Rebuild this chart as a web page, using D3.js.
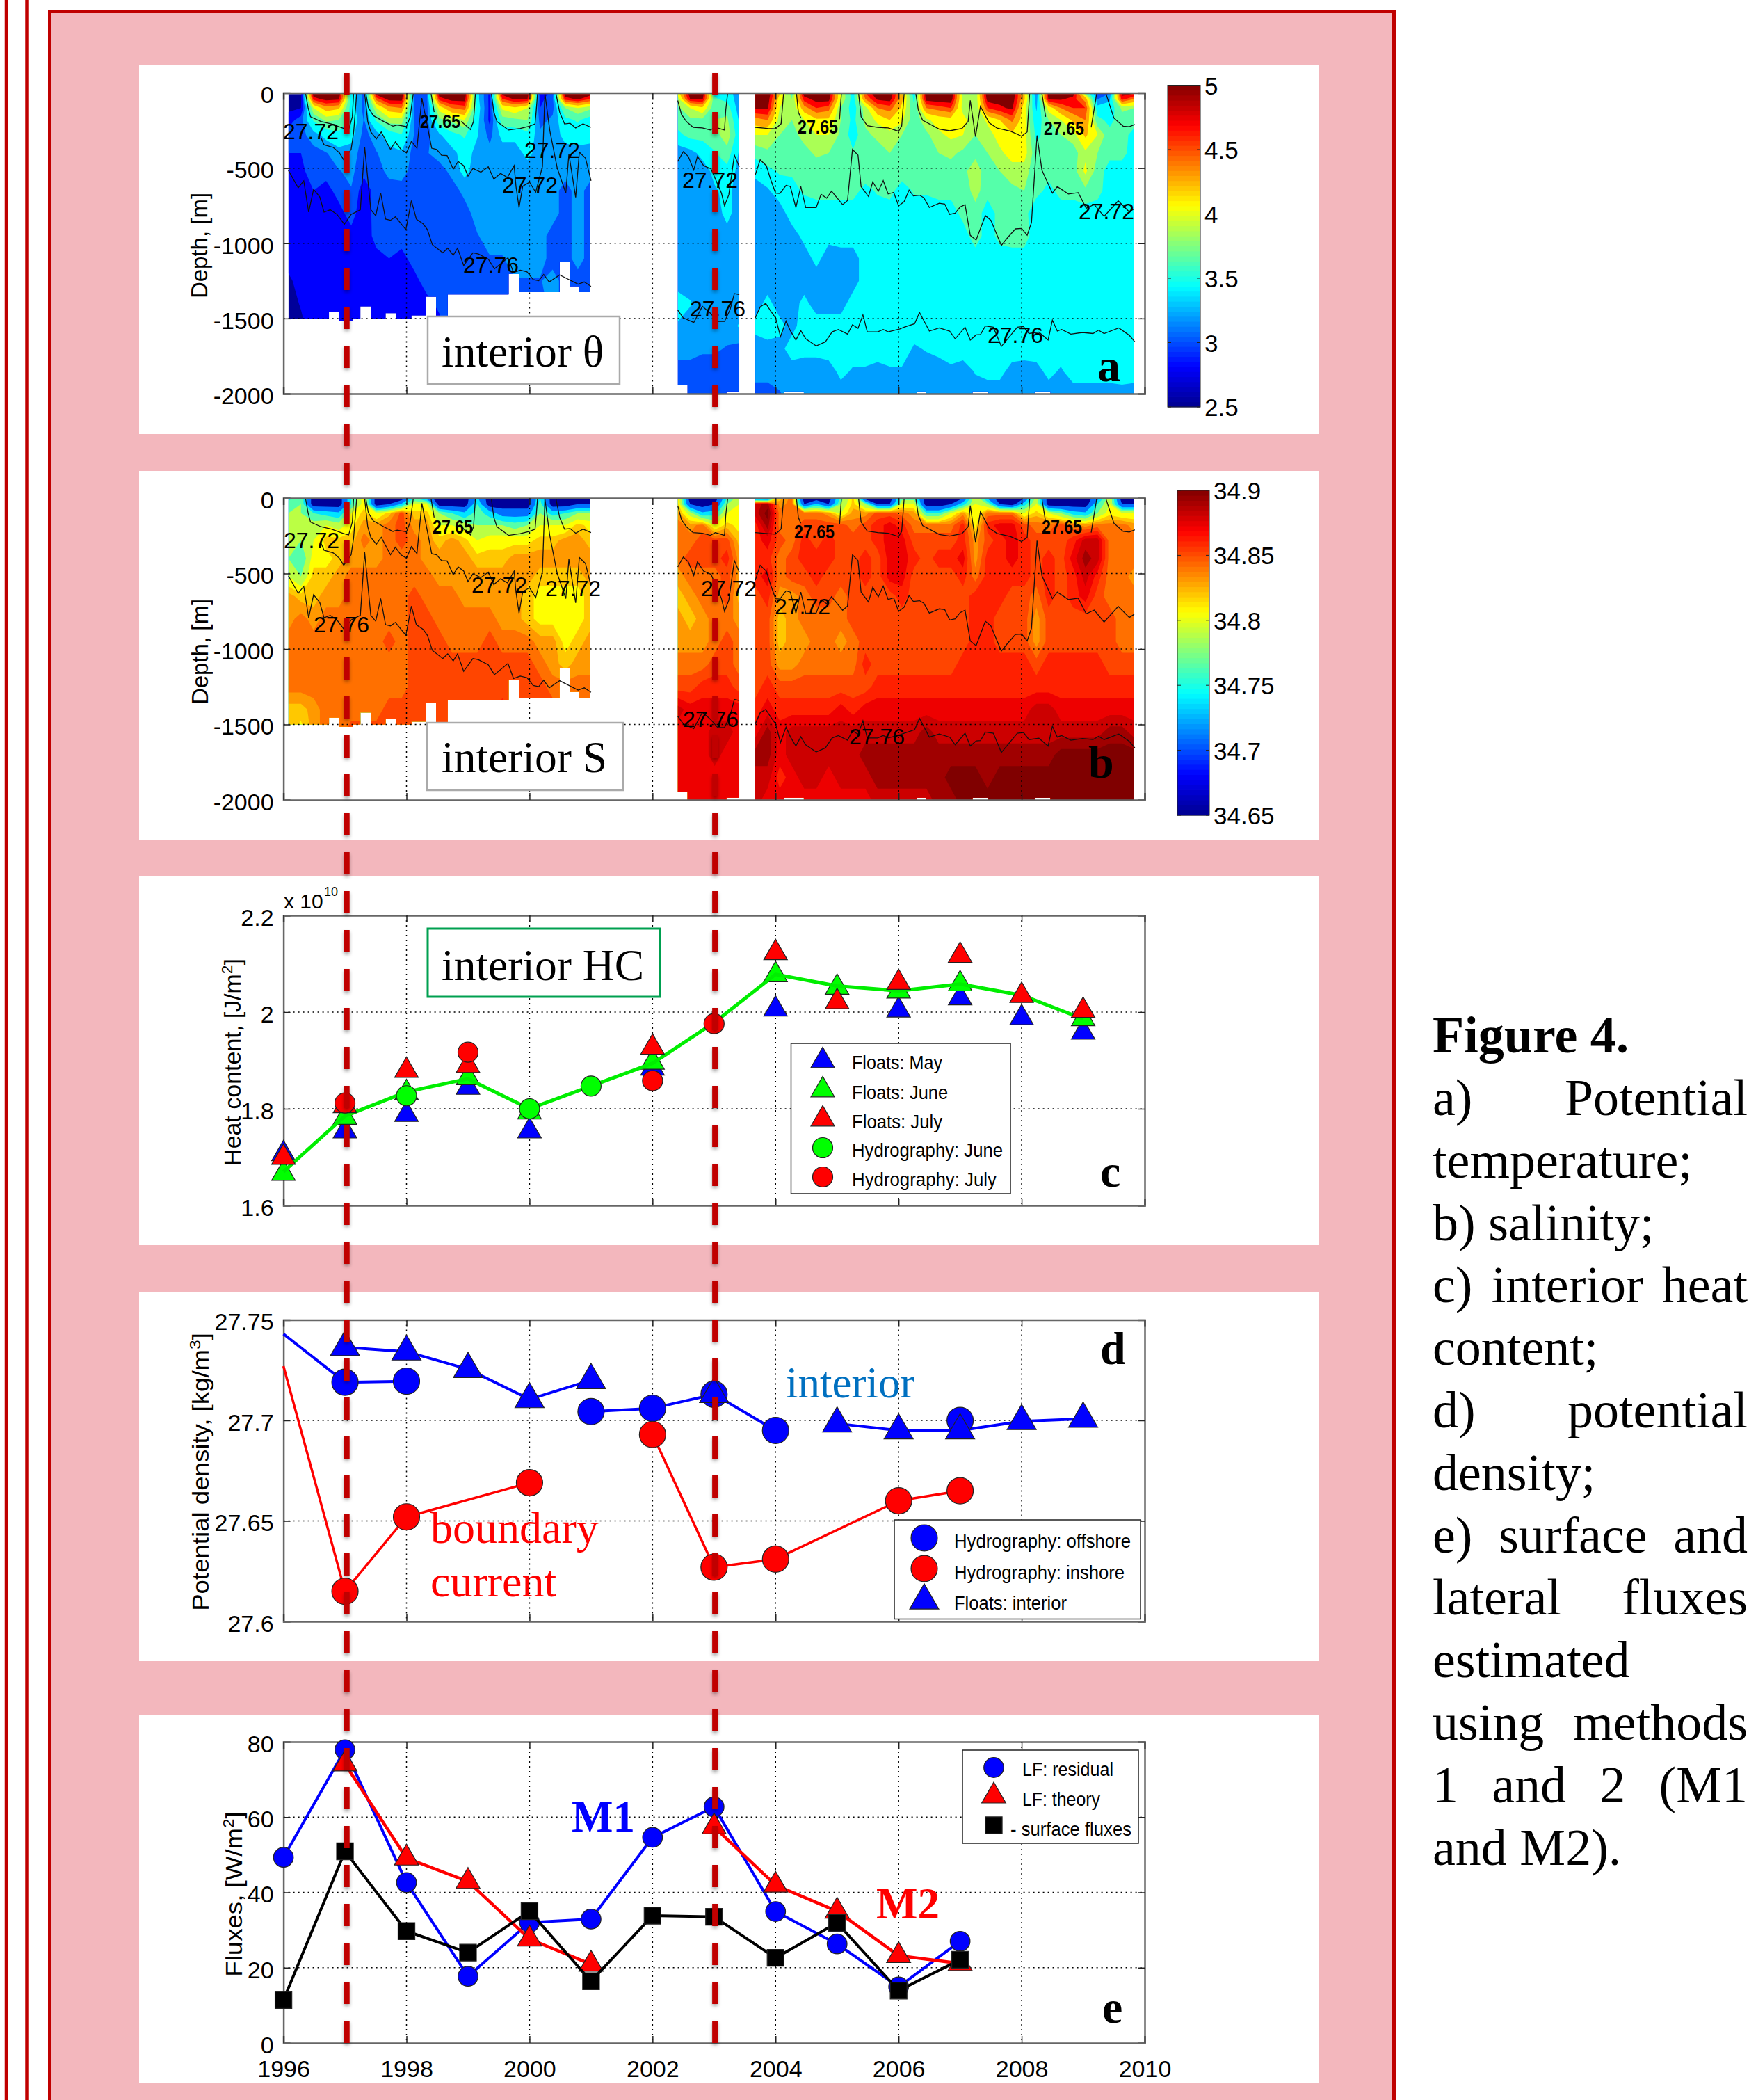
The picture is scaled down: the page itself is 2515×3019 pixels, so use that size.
<!DOCTYPE html>
<html>
<head>
<meta charset="utf-8">
<script src="https://cdn.jsdelivr.net/npm/d3@7"></script>
<style>
  html, body { margin: 0; background: #fff; }
  text { font-family: "Liberation Sans", sans-serif; fill: #000; }
  .serif { font-family: "Liberation Serif", serif; }
</style>
</head>
<body>
<svg id="fig" width="2515" height="3019"></svg>
<script>
// depth levels of the gridded sections, m
const rowDepths = [0,40,100,180,280,400,520,650,800,950,1100,1250,1400,1550,1700,1850,2000];

// potential temperature profiles, one line per time step
const thetaSeg1 = [
  [2.6,2.6,2.65,2.8,3.0,2.9,2.85,2.8,2.8,2.8,2.8,2.65,2.6,2.6],
  [2.65,2.65,2.7,3.0,3.0,2.9,2.85,2.8,2.8,2.8,2.8,2.8,2.72,2.65],
  [5.0,4.7,3.9,3.5,3.15,3.0,3.0,2.9,2.8,2.8,2.8,2.8,2.8,2.8],
  [5.0,4.9,4.3,3.75,3.3,3.05,2.95,2.85,2.8,2.8,2.8,2.8,2.8,2.8],
  [5.0,4.85,4.2,3.7,3.4,3.15,3.05,2.95,2.85,2.8,2.8,2.8,2.8,2.8],
  [3.35,3.35,3.35,3.4,3.3,3.15,3.1,3.05,2.96,2.85,2.8,2.8,2.8,2.8],
  [3.0,3.0,3.0,3.05,3.0,2.97,2.95,2.8,2.8,2.8,2.8,2.8,2.8,2.8],
  [4.95,4.5,3.9,3.5,3.15,3.05,3.0,2.97,2.97,2.96,2.85,2.8,2.8,2.8],
  [5.0,4.9,4.3,3.8,3.35,3.15,3.1,3.0,3.0,2.97,2.9,2.8,2.8,2.8],
  [5.0,4.9,4.4,3.8,3.45,3.2,3.12,3.0,3.0,2.97,2.85,2.8,2.8,2.8],
  [3.05,3.05,3.05,3.05,3.05,3.0,3.0,2.98,2.98,2.98,2.96,2.85,2.8,2.8],
  [3.0,3.0,3.0,3.0,3.0,3.05,3.05,3.0,3.0,3.0,3.0,2.97,2.85,2.8],
  [5.0,4.7,4.0,3.65,3.2,3.12,3.0,3.0,3.0,3.0,3.0,3.0,2.94,2.85],
  [5.0,4.9,4.4,3.75,3.4,3.15,3.1,3.0,3.0,3.0,3.0,3.0,3.0,3.0],
  [5.0,4.9,4.5,3.9,3.5,3.35,3.3,3.1,3.0,3.0,3.0,3.0,3.0,3.0],
  [3.3,3.3,3.35,3.3,3.25,3.15,3.12,3.12,3.12,3.05,3.0,3.0,3.0,3.0],
  [2.85,2.85,2.85,2.85,3.0,3.12,3.12,3.12,3.12,3.12,3.05,3.0,3.0,3.0],
  [4.9,4.6,3.95,3.6,3.3,3.12,3.12,3.12,3.12,3.12,3.05,3.0,3.0,3.0],
  [5.0,4.85,4.1,3.65,3.3,3.12,3.12,3.12,3.12,3.12,3.12,3.05,3.0,3.0],
  [5.0,4.8,3.9,3.7,3.4,3.3,3.12,3.12,3.12,3.12,3.12,3.05,3.0,3.0],
  [2.8,2.85,2.9,3.0,3.1,3.12,3.12,3.12,3.12,3.12,3.12,3.05,3.0,3.0],
  [2.95,3.0,3.0,3.1,3.12,3.12,3.12,3.12,3.12,3.0,3.0,3.12,3.12,3.1],
  [5.0,4.7,3.7,3.4,3.3,3.15,3.12,3.0,3.0,3.0,3.0,3.0,3.0,3.0],
  [5.0,4.85,3.9,3.5,3.35,3.15,3.12,3.12,3.12,3.12,3.12,3.0,3.0,3.0],
  [4.95,4.6,3.75,3.35,3.3,3.15,3.12,3.0,3.0,3.0,3.0,3.0,3.0,3.0]
];
const thetaSeg2 = [
  [4.0,3.8,3.65,3.6,3.4,3.1,3.12,3.12,3.12,3.12,3.12,3.12,3.35,3.2,3.12,3.0,3.0],
  [4.95,4.8,3.9,3.65,3.55,3.15,3.12,3.12,3.12,3.12,3.12,3.12,3.25,3.12,3.12,3.0,3.0],
  [5.0,4.85,4.1,3.65,3.55,3.3,3.12,3.12,3.12,3.12,3.12,3.12,3.12,3.12,3.08,3.0,3.0],
  [3.4,3.5,3.55,3.7,3.6,3.45,3.3,3.2,3.12,3.12,3.12,3.12,3.15,3.12,3.08,3.0,3.0],
  [3.35,3.4,3.6,3.75,3.85,3.6,3.4,3.3,3.3,3.15,3.12,3.12,3.12,3.12,3.05,3.0,3.0],
  [3.1,3.1,3.1,3.2,3.3,3.2,3.15,3.12,3.12,3.12,3.12,3.12,3.12,3.25,3.0,3.0,3.0]
];
const thetaSeg3 = [
  [4.95,4.9,4.85,4.3,3.9,3.55,3.3,3.12,3.12,3.12,3.12,3.12,3.12,3.3,3.12,3.12,3.0],
  [5.0,4.95,4.85,4.4,3.9,3.65,3.4,3.2,3.12,3.12,3.12,3.12,3.3,3.4,3.12,3.12,3.0],
  [4.2,4.0,3.9,3.8,3.7,3.6,3.5,3.35,3.12,3.12,3.12,3.12,3.12,3.3,3.15,3.12,3.05],
  [3.6,3.7,3.7,3.7,3.6,3.6,3.5,3.4,3.35,3.12,3.12,3.12,3.12,3.15,3.35,3.12,3.12],
  [4.95,4.7,4.3,3.9,3.8,3.6,3.55,3.5,3.35,3.3,3.12,3.12,3.3,3.35,3.3,3.12,3.12],
  [5.0,4.9,4.6,4.1,3.9,3.75,3.55,3.55,3.35,3.35,3.3,3.12,3.12,3.35,3.3,3.12,3.12],
  [5.0,4.9,4.5,4.1,3.9,3.7,3.55,3.55,3.35,3.3,3.12,3.12,3.12,3.35,3.35,3.12,3.12],
  [3.9,3.9,3.7,3.7,3.65,3.6,3.55,3.55,3.35,3.35,3.12,3.12,3.12,3.35,3.35,3.3,3.12],
  [3.35,3.35,3.35,3.4,3.35,3.5,3.55,3.55,3.35,3.35,3.12,3.12,3.35,3.35,3.35,3.2,3.12],
  [4.6,4.4,3.8,3.75,3.65,3.6,3.6,3.4,3.35,3.35,3.35,3.35,3.35,3.35,3.35,3.2,3.12],
  [5.0,4.85,4.4,3.95,3.75,3.6,3.6,3.5,3.35,3.35,3.35,3.35,3.35,3.35,3.35,3.15,3.12],
  [5.0,4.9,4.5,4.15,3.8,3.7,3.6,3.55,3.35,3.35,3.35,3.35,3.35,3.35,3.35,3.2,3.12],
  [4.2,4.2,4.1,3.95,3.7,3.6,3.6,3.35,3.35,3.35,3.35,3.35,3.35,3.35,3.35,3.2,3.12],
  [3.35,3.4,3.5,3.55,3.55,3.6,3.55,3.5,3.35,3.35,3.35,3.35,3.35,3.35,3.2,3.12,3.12],
  [5.0,4.9,4.4,3.85,3.65,3.65,3.65,3.5,3.35,3.35,3.35,3.35,3.35,3.35,3.25,3.12,3.12],
  [5.0,4.95,4.5,4.0,3.85,3.7,3.6,3.55,3.35,3.35,3.35,3.35,3.35,3.35,3.3,3.12,3.12],
  [5.0,4.95,4.6,4.05,3.95,3.75,3.6,3.55,3.35,3.35,3.35,3.35,3.35,3.35,3.3,3.2,3.12],
  [3.8,3.8,3.8,4.0,3.9,3.65,3.65,3.55,3.55,3.35,3.35,3.35,3.35,3.35,3.35,3.12,3.12],
  [3.7,3.7,3.7,3.7,3.7,3.65,3.8,3.8,3.6,3.6,3.35,3.35,3.35,3.35,3.35,3.25,3.12],
  [5.0,4.9,4.6,3.95,3.8,3.7,3.6,3.55,3.35,3.35,3.35,3.35,3.35,3.35,3.35,3.3,3.12],
  [5.0,4.9,4.75,4.15,4.0,3.85,3.7,3.6,3.55,3.55,3.35,3.35,3.35,3.35,3.35,3.3,3.12],
  [5.0,4.95,4.85,4.45,4.1,4.0,3.8,3.65,3.55,3.6,3.35,3.35,3.35,3.35,3.35,3.15,3.12],
  [4.2,4.2,4.0,4.0,4.0,4.0,3.8,3.7,3.55,3.6,3.35,3.35,3.35,3.35,3.35,3.12,3.12],
  [3.05,3.1,3.2,3.3,3.4,3.55,3.55,3.55,3.3,3.3,3.35,3.35,3.35,3.35,3.35,3.15,3.12],
  [4.95,4.85,4.0,3.7,3.6,3.55,3.55,3.4,3.35,3.35,3.35,3.35,3.35,3.35,3.35,3.3,3.12],
  [5.0,4.85,4.4,3.9,3.7,3.6,3.6,3.55,3.35,3.35,3.35,3.35,3.35,3.35,3.35,3.2,3.12],
  [4.95,4.7,4.6,4.2,3.8,3.6,3.6,3.55,3.35,3.35,3.35,3.35,3.35,3.35,3.35,3.35,3.12],
  [3.7,4.3,4.6,4.4,4.2,3.85,3.95,3.65,3.35,3.35,3.35,3.35,3.35,3.35,3.35,3.35,3.12],
  [3.0,3.05,3.3,3.55,3.9,3.7,3.6,3.55,3.35,3.35,3.35,3.35,3.35,3.35,3.35,3.35,3.12],
  [3.05,3.2,3.3,3.4,3.55,3.55,3.35,3.35,3.35,3.35,3.35,3.35,3.35,3.35,3.35,3.35,3.12],
  [4.9,4.7,3.75,3.6,3.6,3.55,3.35,3.35,3.35,3.35,3.35,3.35,3.35,3.35,3.35,3.35,3.15],
  [4.85,4.4,3.7,3.6,3.35,3.35,3.35,3.35,3.35,3.35,3.35,3.35,3.35,3.35,3.35,3.35,3.12]
];

// salinity profiles, hundredths above 34 (85 means 34.85)
const salinitySeg1 = [
  [75,77,78,79,80,78,80,83,83,84,84,84,82,82],
  [78,78,78,78,78,76,78,82,84,84,84,84,82,81],
  [68,68,76,79,80,81,82,82,83,84,84,84,83,83],
  [68,68,75,80,82,81,82,83,84,84,84,84,84,84],
  [68,68,74,79,82,82,83,83,84,84,84,84,84,84],
  [76,76,80,81,82,83,84,84,84,84,84,84,84,85],
  [81,81,82,83,84,83,84,84,84,84,84,84,84,85],
  [68,68,80,83,83,83,84,84,84,84,84,84,84,85],
  [68,70,82,84,84,84,84,84,84,85,84,84,85,85],
  [68,74,85,85,85,84,84,84,84,84,84,84,85,85],
  [76,80,82,83,84,84,84,85,85,85,85,85,85,85],
  [72,80,82,83,83,83,84,84,85,85,85,85,85,85],
  [68,68,78,80,82,83,83,84,84,85,85,85,85,85],
  [68,68,76,80,83,83,83,84,84,84,85,85,85,85],
  [68,68,74,79,82,83,83,83,84,84,85,85,85,85],
  [74,76,77,78,80,82,83,83,84,84,85,85,85,85],
  [68,68,75,78,81,82,83,83,84,85,85,85,85,85],
  [68,68,72,78,81,82,83,83,83,84,85,85,86,85],
  [68,68,72,77,81,83,83,83,83,84,85,85,85,85],
  [68,68,72,78,81,83,83,82,82,84,85,85,85,85],
  [76,77,78,80,82,83,82,81,81,83,84,85,86,85],
  [68,68,75,80,82,83,82,81,81,83,83,84,85,85],
  [68,68,76,80,83,83,82,81,81,81,82,84,85,85],
  [68,70,78,82,83,83,82,81,81,82,83,84,85,85],
  [68,70,78,81,82,83,83,82,82,83,83,84,85,85]
];
const salinitySeg2 = [
  [82,82,83,84,84,84,83,82,83,83,84,85,88,87,87,87,87],
  [68,70,79,83,84,85,84,83,82,83,84,85,87,87,87,87,87],
  [68,68,74,84,85,85,84,84,83,83,84,86,87,87,87,87,87],
  [68,70,75,80,85,85,84,84,84,84,85,86,87,88,88,87,87],
  [76,78,80,82,85,86,85,85,84,85,85,86,87,88,87,87,87],
  [79,80,80,81,82,83,83,82,83,84,84,85,87,87,87,87,87]
];
const salinitySeg3 = [
  [70,88,88,86,86,86,86,85,85,85,85,85,86,87,89,88,88],
  [68,89,90,89,87,86,87,86,85,85,85,86,87,89,89,88,87],
  [82,83,84,84,85,84,84,83,82,82,83,85,86,87,87,86,87],
  [84,84,84,84,84,85,85,83,83,83,83,85,86,88,88,87,87],
  [68,70,84,85,86,86,85,84,84,83,84,85,86,88,88,88,87],
  [68,74,84,85,85,86,86,85,84,84,84,85,86,88,88,88,87],
  [68,70,83,85,86,86,85,85,84,84,84,85,86,88,88,87,87],
  [77,78,80,85,85,85,85,84,84,83,84,85,87,88,88,88,87],
  [82,82,83,84,85,85,85,85,85,84,84,85,86,88,88,88,87],
  [68,78,83,85,85,86,86,85,85,85,86,85,87,88,89,88,87],
  [68,70,85,86,86,85,85,85,85,85,85,86,87,88,89,89,88],
  [68,70,85,87,87,87,87,85,85,85,85,86,87,88,89,89,88],
  [77,80,84,86,87,87,87,86,85,85,85,86,87,88,89,89,88],
  [77,80,83,84,85,86,85,85,85,85,85,86,87,88,89,89,88],
  [68,68,76,84,85,85,85,85,85,85,85,86,87,89,89,89,88],
  [68,68,76,84,85,86,85,85,85,85,85,86,87,88,89,89,89],
  [68,70,80,84,85,86,85,85,85,85,85,86,87,88,89,90,89],
  [70,75,83,86,86,87,86,85,85,85,86,86,87,88,89,90,90],
  [80,80,80,81,83,83,84,86,86,86,86,86,87,88,89,90,90],
  [73,78,84,86,85,86,86,86,86,86,86,86,87,88,89,89,90],
  [68,70,84,87,86,86,86,86,85,85,86,86,87,88,89,90,90],
  [68,68,84,87,87,87,86,85,85,85,86,86,87,88,89,90,90],
  [70,75,80,85,86,86,86,85,85,85,86,86,87,88,89,90,90],
  [79,80,82,84,85,85,85,84,83,83,85,86,88,88,89,90,90],
  [68,68,80,84,85,86,86,86,85,85,86,86,88,88,89,90,90],
  [68,68,78,85,85,85,85,85,85,85,86,86,87,88,90,90,90],
  [68,68,75,84,86,87,86,86,85,85,86,86,87,88,90,90,90],
  [68,68,74,83,88,89,88,87,85,85,86,86,87,88,90,90,90],
  [72,76,78,84,88,88,86,85,85,85,86,86,87,88,90,90,90],
  [80,80,81,84,84,84,84,84,85,85,85,86,87,89,90,90,90],
  [68,70,80,84,84,84,84,84,84,84,85,86,87,89,90,90,90],
  [68,70,80,83,84,84,83,84,84,84,85,86,87,88,90,90,90]
];

const thetaLevels = [2.7,2.9,3.06,3.23,3.47,3.7,3.9,4.15,4.4,4.6,4.8];
const thetaColors = ["#00009a","#0000ff","#0050ff","#009fff","#00ffff","#55ffaa","#aaff55","#ffff00","#ffaa00","#ff5500","#ff0000","#800000"];
const salinityLevels = [70,73.5,76,78,80,81.5,82.5,83.5,84.5,85.5,86.5,87.5,88.5,89.5];
const salinityColors = ["#00009a","#0070ff","#00e5ff","#55ffaa","#bbff44","#ffff00","#ffc800","#ff9900","#ff7000","#ff4500","#ff2000","#ee0000","#cc0000","#a00000","#800000"];
const jetStops = ["#00008f","#0000ff","#00ffff","#ffff00","#ff0000","#800000"];

// time span of each gridded piece, years
const segStart = [1996.08, 2002.41, 2003.67];
const segEnd = [2000.99, 2003.41, 2009.83];

// bottom of the sampled water column, stepped, m
const bottomTimes = [
  [1996.08,1996.74,1996.90,1997.13,1997.25,1997.42,1997.66,1997.83,1998.08,1998.32,1998.48,1998.67,1999.66,1999.83,2000.49,2000.66,2000.81,2000.99],
  [2002.41,2002.57,2003.2,2003.41],
  [2003.67,2004.14,2004.46,2006.3,2006.45,2007.2,2007.46,2008.21,2008.47,2009.83]
];
const bottomDepths = [
  [1500,1455,1515,1500,1420,1500,1465,1500,1480,1355,1500,1340,1205,1325,1125,1285,1325,1325],
  [1945,2000,1985,1985],
  [2000,1985,2000,1985,2000,1985,2000,1985,2000,2000]
];

// isopycnals, broken pieces of time/depth
const iso65Times = [
  [1996.36,1996.40,1996.44,1996.61,1996.78,1996.98,1997.06,1997.12,1997.14],
  [1997.34,1997.38,1997.46,1997.63,1997.78,1997.85,1998.00,1998.06,1998.11],
  [1998.40,1998.45],
  [1998.89,1999.04,1999.09,1999.12],
  [1999.38,1999.42,1999.47,1999.66,1999.85,2000.00,2000.09,2000.11,2000.13],
  [2000.43,2000.49,2000.57,2000.66,2000.75,2000.87,2001.00],
  [2002.41,2002.47,2002.55,2002.66,2002.81,2002.94,2003.02,2003.17,2003.19,2003.22],
  [2003.67,2003.87,2004.00,2004.09,2004.13],
  [2004.34,2004.37,2004.41],
  [2005.04,2005.07],
  [2005.35,2005.39,2005.49,2005.66,2005.83,2006.00,2006.05,2006.09],
  [2006.28,2006.32,2006.39,2006.66,2006.83,2007.03,2007.13,2007.165,2007.25,2007.33,2007.47,2007.60,2007.82,2008.00,2008.09,2008.13],
  [2008.33,2008.39],
  [2009.13,2009.22],
  [2009.37,2009.50,2009.65,2009.75,2009.84]
];
const iso65Depths = [
  [5,97,159,190,206,236,244,159,5],
  [5,97,151,190,221,213,224,159,5],
  [5,128],
  [190,244,190,5],
  [5,128,190,247,236,221,206,113,5],
  [5,128,206,202,233,206,229],
  [51,143,190,229,233,247,229,247,113,5],
  [229,236,239,205,5],
  [5,128,167],
  [175,5],
  [5,159,218,229,233,255,221,5],
  [5,113,182,241,252,236,190,50,291,90,198,234,255,288,260,5],
  [5,159],
  [229,5],
  [5,167,221,225,210]
];
const iso72Times = [
  [1996.61,1996.66,1996.81,1996.91,1996.98,1997.10,1997.14,1997.19],
  [1997.32,1997.37,1997.42,1997.51,1997.59,1997.74,1997.82,1997.91,1998.00,1998.08,1998.17,1998.25,1998.34,1998.41,1998.49,1998.57,1998.66,1998.76,1998.84,1998.93,1999.00,1999.08,1999.21,1999.33,1999.42,1999.53,1999.64,1999.75,1999.78,1999.83,1999.89,2000.00,2000.10,2000.21,2000.25,2000.33,2000.45,2000.59,2000.64,2000.75,2000.81,2000.91,2001.00],
  [2002.41,2002.50,2002.58,2002.67,2002.73,2002.83,2002.95,2003.12,2003.17,2003.24,2003.33,2003.41],
  [2003.67,2003.75,2003.85,2003.92,2004.00,2004.07,2004.17,2004.24,2004.33,2004.41,2004.49,2004.66,2004.74,2004.83,2004.91,2005.09,2005.17,2005.25,2005.34,2005.39,2005.51,2005.58,2005.67,2005.75,2005.83,2005.92,2006.00,2006.09,2006.17,2006.24,2006.34,2006.41,2006.50,2006.66,2006.75,2006.83,2006.92,2007.00,2007.08,2007.165,2007.26,2007.41,2007.50,2007.67,2007.77,2007.90,2008.00,2008.09,2008.16,2008.25,2008.33,2008.50,2008.58,2008.76,2008.92,2009.05,2009.18,2009.34,2009.57,2009.75,2009.83]
];
const iso72Depths = [
  [298,345,363,399,445,376,267,5],
  [5,190,260,306,260,376,326,376,399,322,368,35,221,368,376,414,417,507,456,484,553,502,527,491,573,535,562,484,622,762,620,594,660,491,5,250,499,666,406,694,394,434,584],
  [456,391,422,512,422,484,505,666,750,677,414,491],
  [545,445,484,576,666,669,615,623,762,623,762,762,674,700,654,743,715,376,414,623,688,592,654,584,672,661,751,723,646,685,680,697,762,734,739,808,800,759,743,947,978,816,847,1014,963,904,901,947,862,283,515,666,623,672,663,767,742,821,718,791,770]
];
const iso76Times = [
  [1996.08,1996.24,1996.33,1996.41,1996.49,1996.59,1996.66,1996.76,1996.87,1996.99,1997.10,1997.25,1997.32,1997.42,1997.50,1997.58,1997.66,1997.74,1997.82,1997.99,1998.08,1998.16,1998.27,1998.34,1998.42,1998.59,1998.67,1998.76,1998.83,1998.93,1999.08,1999.17,1999.33,1999.43,1999.65,1999.74,1999.85,1999.96,2000.06,2000.15,2000.23,2000.32,2000.49,2000.79,2000.89,2001.00],
  [2002.41,2002.50,2002.67,2002.81,2002.94,2003.06,2003.17,2003.26,2003.33,2003.41],
  [2003.67,2003.75,2003.84,2003.92,2004.00,2004.08,2004.17,2004.24,2004.33,2004.41,2004.49,2004.66,2004.81,2004.92,2005.02,2005.17,2005.25,2005.34,2005.42,2005.49,2005.66,2005.75,2005.83,2006.02,2006.09,2006.26,2006.34,2006.50,2006.66,2006.83,2006.92,2007.08,2007.165,2007.26,2007.33,2007.41,2007.54,2007.67,2007.93,2008.03,2008.12,2008.28,2008.43,2008.50,2008.58,2008.65,2008.80,2008.99,2009.16,2009.25,2009.34,2009.58,2009.75,2009.84]
];
const iso76Depths = [
  [515,631,585,793,641,692,793,777,808,873,808,777,360,777,816,665,839,847,824,909,716,839,870,909,1009,1063,1032,1079,1032,1148,1063,1071,1105,1170,1096,1195,1179,1190,1241,1249,1207,1257,1210,1272,1257,1287],
  [1445,1496,1527,1419,1465,1520,1520,1442,1334,1342],
  [1496,1423,1400,1450,1496,1620,1517,1581,1643,1581,1635,1682,1655,1589,1573,1604,1542,1565,1476,1589,1589,1573,1589,1569,1558,1535,1460,1584,1563,1584,1635,1558,1643,1609,1607,1550,1558,1686,1558,1553,1600,1591,1643,1511,1584,1573,1604,1593,1600,1578,1600,1563,1612,1655]
];

// panel c
const hcYears = [1996,1997,1998,1999,2000,2001,2002,2003,2004,2005,2006,2007,2008,2009];
const hcLine = [1.67,1.785,1.835,1.862,1.80,1.847,1.894,1.978,2.078,2.054,2.044,2.058,2.035,1.986];
const floatsMayYears = [1996,1997,1998,1999,2000,2002,2004,2006,2007,2008,2009];
const floatsMay = [1.7066,1.7537,1.788,1.844,1.7537,1.8836,2.006,2.004,2.029,1.988,1.958];
const floatsJuneYears = [1996,1997,1998,1999,2000,2002,2004,2005,2006,2007,2009];
const floatsJune = [1.666,1.782,1.833,1.864,1.793,1.896,2.077,2.051,2.043,2.058,1.986];
const floatsJulyYears = [1996,1997,1998,1999,2002,2004,2005,2006,2007,2008,2009];
const floatsJuly = [1.699,1.806,1.879,1.889,1.927,2.1226,2.021,2.061,2.117,2.034,2.003];
const hydroJuneYears = [1998,2000,2001];
const hydroJune = [1.827,1.80,1.847];
const hydroJulyYears = [1997,1999,2002,2003];
const hydroJuly = [1.812,1.917,1.858,1.976];

// panel d
const offshoreYears = [1997,1998,2001,2002,2003,2004,2007];
const offshore = [27.719,27.7195,27.7044,27.706,27.713,27.695,27.70];
const offshoreStart = 27.743;
const inshoreYears = [1997,1998,2000,2002,2003,2004,2006,2007];
const inshore = [27.615,27.652,27.669,27.693,27.627,27.631,27.660,27.665];
const inshoreStart = 27.727;
const interiorYears = [1997,1998,1999,2000,2001,2003,2005,2006,2007,2008,2009];
const interior = [27.7364,27.7342,27.7255,27.7105,27.720,27.713,27.6984,27.695,27.695,27.6996,27.7008];

// panel e
const fluxYears = [1996,1997,1998,1999,2000,2001,2002,2003,2004,2005,2006,2007];
const lfResidual = [49.3,77.9,42.6,17.7,32,32.9,54.6,62.7,34.9,26.3,14.9,27];
const theoryYears = [1997,1998,1999,2000,2001,2003,2004,2005,2006,2007];
const lfTheory = [74.1,49.1,42.9,27.6,20.9,57.4,41.9,35,23.2,21.1];
const surfaceFlux = [11.4,50.9,29.7,24,35,16.4,33.8,33.5,22.6,31.9,13.9,22.1];

const xTicks = [1996,1998,2000,2002,2004,2006,2008,2010];
const eventYears = [1997.03, 2003.015];
const captionLines = ["a) Potential","temperature;","b) salinity;","c) interior heat","content;","d) potential","density;","e) surface and","lateral fluxes","estimated","using methods","1 and 2 (M1","and M2)."];
const captionJustified = [true,false,false,true,false,true,false,true,true,false,true,true,false];

const PINK = "#f3b7bd", DARKRED = "#c00000";
const svg = d3.select("#fig");
const x = d3.scaleLinear().domain([1996, 2010]).range([407.6, 1646]);

// page background and frame
svg.append("line").attr("x1",9).attr("x2",9).attr("y1",0).attr("y2",3019).attr("stroke",DARKRED).attr("stroke-width",4.5);
svg.append("line").attr("x1",38.5).attr("x2",38.5).attr("y1",0).attr("y2",3019).attr("stroke",DARKRED).attr("stroke-width",4.5);
svg.append("rect").attr("x",71.5).attr("y",16.5).attr("width",1933).attr("height",3100)
  .attr("fill",PINK).attr("stroke",DARKRED).attr("stroke-width",5);

const panels = [[94,624],[677,1208],[1260,1790],[1858,2388],[2465,2995]];
panels.forEach(p => svg.append("rect").attr("x",200).attr("y",p[0]).attr("width",1697).attr("height",p[1]-p[0]).attr("fill","#fff"));

const defs = svg.append("defs");
const shadow = defs.append("filter").attr("id","dashShadow").attr("filterUnits","userSpaceOnUse")
  .attr("x",0).attr("y",0).attr("width",2515).attr("height",3019);
shadow.append("feDropShadow").attr("dx",0).attr("dy",3).attr("stdDeviation",2.5).attr("flood-color","#000").attr("flood-opacity",0.35);

function label(g, px, py, str, size, opts) {
  opts = opts || {};
  const t = g.append("text").attr("x",px).attr("y",py).attr("font-size",size).text(str);
  if (opts.serif) t.attr("class","serif");
  if (opts.bold) t.attr("font-weight","bold");
  if (opts.color) t.style("fill",opts.color);
  if (opts.anchor) t.attr("text-anchor",opts.anchor);
  if (opts.width) t.attr("textLength",opts.width).attr("lengthAdjust","spacingAndGlyphs");
  return t;
}

// rotated axis title, sx stretches it along the reading direction
function yLabel(g, px, py, str, sx, sup, tail) {
  const t = g.append("text").attr("transform",`translate(${px},${py}) rotate(-90) scale(${sx},1)`)
    .attr("text-anchor","middle").attr("font-size",33).text(str);
  if (sup) {
    t.append("tspan").attr("dy",-12).attr("font-size",22).text(sup);
    t.append("tspan").attr("dy",12).text(tail);
  }
}

// box, dotted grid, inward ticks
function frame(g, y, yTicks, fmt, xLabels) {
  const top = y.range()[1], bottom = y.range()[0];
  const grid = g.append("g").attr("fill","none").attr("stroke","#000").attr("stroke-width",1.5).attr("stroke-dasharray","2 5");
  xTicks.slice(1,-1).forEach(t => grid.append("line").attr("x1",x(t)).attr("x2",x(t)).attr("y1",top).attr("y2",bottom));
  yTicks.slice(1,-1).forEach(t => grid.append("line").attr("x1",x.range()[0]).attr("x2",x.range()[1]).attr("y1",y(t)).attr("y2",y(t)));

  const left = g.append("g").attr("transform",`translate(${x.range()[0]},0)`)
    .call(d3.axisLeft(y).tickValues(yTicks).tickFormat(fmt).tickSize(-10).tickPadding(14));
  const right = g.append("g").attr("transform",`translate(${x.range()[1]},0)`)
    .call(d3.axisRight(y).tickValues(yTicks).tickFormat("").tickSize(-10));
  const axisTop = g.append("g").attr("transform",`translate(0,${top})`)
    .call(d3.axisTop(x).tickValues(xTicks).tickFormat("").tickSize(-10));
  const axisBottom = g.append("g").attr("transform",`translate(0,${bottom})`)
    .call(d3.axisBottom(x).tickValues(xTicks).tickFormat(xLabels ? d3.format("d") : "").tickSize(-10).tickPadding(25));
  [left,right,axisTop,axisBottom].forEach(a => {
    a.selectAll("path").attr("stroke","#666").attr("stroke-width",2.5);
    a.selectAll("line").attr("stroke","#222").attr("stroke-width",1.5);
    a.selectAll("text").attr("font-size",34).attr("font-family","Liberation Sans").style("fill","#000");
  });
  left.selectAll("text").attr("dy","0.42em");
}

// filled section made of three gridded pieces with their isopycnals
function section(g, y, segs, levels, colors, clipId) {
  segs.forEach((cols, s) => {
    const n = cols.length, m = cols[0].length;
    const values = new Array(n * m);
    cols.forEach((col, i) => col.forEach((v, j) => { values[i + j * n] = v; }));
    const tOf = d3.scaleLinear().domain([0.5, n - 0.5]).range([segStart[s], segEnd[s]]).clamp(true);
    const dOf = d3.scaleLinear().domain(d3.range(m).map(j => j + 0.5)).range(rowDepths.slice(0, m)).clamp(true);
    const path = d3.geoPath(d3.geoTransform({
      point(a, b) { this.stream.point(x(tOf(a)), y(dOf(b))); }
    }));
    const area = d3.area().curve(d3.curveStepAfter).x(d => x(d[0])).y0(y(8)).y1(d => y(d[1]));
    const id = clipId + s;
    defs.append("clipPath").attr("id",id).append("path")
      .attr("d",area(d3.zip(bottomTimes[s],bottomDepths[s])));
    const cg = g.append("g").attr("clip-path",`url(#${id})`);
    cg.append("rect").attr("x",x(segStart[s])).attr("width",x(segEnd[s])-x(segStart[s]))
      .attr("y",y(0)).attr("height",y(2000)-y(0)).attr("fill",colors[0]);
    const contours = d3.contours().size([n, m]).thresholds(levels)(values);
    cg.selectAll("path").data(contours).join("path")
      .attr("d",path).attr("fill",(d,i) => colors[i + 1]);
  });
  const line = d3.line().x(d => x(d[0])).y(d => y(d[1]));
  [[iso65Times,iso65Depths],[iso72Times,iso72Depths],[iso76Times,iso76Depths]].forEach(iso => {
    iso[0].forEach((times, k) => {
      g.append("path").attr("d",line(d3.zip(times, iso[1][k])))
        .attr("fill","none").attr("stroke","#111").attr("stroke-width",1.3);
    });
  });
}

function colorbar(g, px, w, scale, vals, fmt, labelX) {
  const dom = scale.domain();
  const jet = d3.scaleLinear()
    .domain([0,0.125,0.375,0.625,0.875,1].map(f => dom[0] + f * (dom[1] - dom[0])))
    .range(jetStops);
  const steps = d3.range(64).map(i => dom[0] + (i + 0.5) * (dom[1] - dom[0]) / 64);
  const h = Math.abs(scale(dom[1]) - scale(dom[0])) / 64;
  g.selectAll(null).data(steps).join("rect")
    .attr("x",px).attr("width",w).attr("y",d => scale(d) - h / 2 - 0.4).attr("height",h + 0.8)
    .attr("fill",d => jet(d));
  g.append("rect").attr("x",px).attr("width",w).attr("y",scale(dom[1])).attr("height",h * 64)
    .attr("fill","none").attr("stroke","#222").attr("stroke-width",1);
  vals.forEach(v => {
    g.append("line").attr("x1",px).attr("x2",px + 5).attr("y1",scale(v)).attr("y2",scale(v)).attr("stroke","#222");
    g.append("line").attr("x1",px + w - 5).attr("x2",px + w).attr("y1",scale(v)).attr("y2",scale(v)).attr("stroke","#222");
    label(g, labelX, scale(v) + 13, fmt(v), 35);
  });
}

function textBox(g, x0, y0, x1, y1, color, sw) {
  g.append("rect").attr("x",x0).attr("y",y0).attr("width",x1-x0).attr("height",y1-y0)
    .attr("fill","#fff").attr("stroke",color).attr("stroke-width",sw);
}

// markers
function points(g, xs, ys, y, type, size, fill) {
  const sym = d3.symbol().type(type).size(size);
  g.selectAll(null).data(d3.zip(xs, ys)).join("path")
    .attr("d",sym).attr("transform",d => `translate(${x(d[0])},${y(d[1])})`)
    .attr("fill",fill).attr("stroke","#222").attr("stroke-width",1.2);
}
function marker(g, px, py, type, size, fill) {
  g.append("path").attr("d",d3.symbol().type(type).size(size)).attr("transform",`translate(${px},${py})`)
    .attr("fill",fill).attr("stroke","#222").attr("stroke-width",1.2);
}
function polyline(g, xs, ys, y, color, sw) {
  g.append("path").attr("d",d3.line().x(d => x(d[0])).y(d => y(d[1]))(d3.zip(xs, ys)))
    .attr("fill","none").attr("stroke",color).attr("stroke-width",sw).attr("stroke-linejoin","round");
}

const depthFmt = d => d ? `-${d}` : "0";
const triC = 500, circC = 660, triD = 760, circD = 1130, triE = 520, circE = 640, sqE = 580;

// panel a
{
  const g = svg.append("g");
  const y = d3.scaleLinear().domain([2000,0]).range([566,133.5]);
  section(g, y, [thetaSeg1,thetaSeg2,thetaSeg3], thetaLevels, thetaColors, "clipA");
  frame(g, y, [2000,1500,1000,500,0], depthFmt, false);
  yLabel(g, 298, 353, "Depth, [m]", 1);
  [[407,200],[754,227],[722,277],[981,270],[1551,315]].forEach(p => label(g,p[0],p[1],"27.72",32,{width:80}));
  [[666,392],[992,455],[1420,493]].forEach(p => label(g,p[0],p[1],"27.76",32,{width:80}));
  [[604,184],[1147,192],[1501,194]].forEach(p => label(g,p[0],p[1],"27.65",27,{bold:true,width:58}));
  label(g,1578,548,"a",66,{serif:true,bold:true});
  textBox(g,615,455,891,552,"#aaa",2.5);
  label(g,635,527,"interior θ",63.5,{serif:true});
  const cb = d3.scaleLinear().domain([2.5,5]).range([585,122.5]);
  colorbar(g,1679,47,cb,[2.5,3,3.5,4,4.5,5],d3.format("~g"),1732);
}

// panel b
{
  const g = svg.append("g");
  const y = d3.scaleLinear().domain([2000,0]).range([1150,716]);
  section(g, y, [salinitySeg1,salinitySeg2,salinitySeg3], salinityLevels, salinityColors, "clipB");
  frame(g, y, [2000,1500,1000,500,0], depthFmt, false);
  yLabel(g, 299, 937, "Depth, [m]", 1);
  [[408,788],[678,852],[784,857],[1008,857],[1114,883]].forEach(p => label(g,p[0],p[1],"27.72",32,{width:80}));
  [[451,909],[982,1045],[1221,1070]].forEach(p => label(g,p[0],p[1],"27.76",32,{width:80}));
  [[622,767],[1142,774],[1498,767]].forEach(p => label(g,p[0],p[1],"27.65",27,{bold:true,width:58}));
  label(g,1565,1118,"b",66,{serif:true,bold:true});
  textBox(g,614,1039,896,1136,"#aaa",2.5);
  label(g,635,1110,"interior S",63.5,{serif:true});
  const cb = d3.scaleLinear().domain([34.65,34.9]).range([1172,705]);
  colorbar(g,1693,46,cb,[34.65,34.7,34.75,34.8,34.85,34.9],d3.format("~g"),1745);
}

// panel c
{
  const g = svg.append("g");
  const y = d3.scaleLinear().domain([1.6,2.2]).range([1733,1316]);
  frame(g, y, [1.6,1.8,2,2.2], d3.format("~g"), false);
  yLabel(g, 346, 1527, "Heat content, [J/m", 1.03, "2", "]");
  label(g,408,1306,"x 10",30);
  label(g,466,1288,"10",18);
  textBox(g,615,1335,949,1433,"#00a050",3);
  label(g,635,1409,"interior HC",63.5,{serif:true});
  points(g,floatsMayYears,floatsMay,y,d3.symbolTriangle,triC,"#0000ff");
  points(g,floatsJuneYears,floatsJune,y,d3.symbolTriangle,triC,"#00ff00");
  polyline(g,hcYears,hcLine,y,"#00ee00",5);
  points(g,floatsJulyYears,floatsJuly,y,d3.symbolTriangle,triC,"#ff0000");
  points(g,hydroJuneYears,hydroJune,y,d3.symbolCircle,circC,"#00ff00");
  points(g,hydroJulyYears,hydroJuly,y,d3.symbolCircle,circC,"#ff0000");
  textBox(g,1137.5,1500,1453,1716,"#222",1.5);
  marker(g,1183,1525,d3.symbolTriangle,triC,"#0000ff");
  marker(g,1183,1567,d3.symbolTriangle,triC,"#00ff00");
  marker(g,1183,1609,d3.symbolTriangle,triC,"#ff0000");
  marker(g,1183,1650,d3.symbolCircle,circC,"#00ff00");
  marker(g,1183,1692,d3.symbolCircle,circC,"#ff0000");
  [["Floats: May",1537,130],["Floats: June",1580,138],["Floats: July",1622,130],["Hydrography: June",1663,217],["Hydrography: July",1705,208]]
    .forEach(r => label(g,1225,r[1],r[0],27,{width:r[2]}));
  label(g,1582,1706,"c",66,{serif:true,bold:true});
}

// panel d
{
  const g = svg.append("g");
  const y = d3.scaleLinear().domain([27.6,27.75]).range([2331,1897.5]);
  frame(g, y, [27.6,27.65,27.7,27.75], d3.format("~g"), false);
  yLabel(g, 300, 2116, "Potential density, [kg/m", 1.11, "3", "]");
  polyline(g,[1996].concat(offshoreYears.slice(0,2)),[offshoreStart].concat(offshore.slice(0,2)),y,"#0000ff",4);
  polyline(g,offshoreYears.slice(2,6),offshore.slice(2,6),y,"#0000ff",4);
  polyline(g,interiorYears.slice(0,5),interior.slice(0,5),y,"#0000ff",4);
  polyline(g,interiorYears.slice(6),interior.slice(6),y,"#0000ff",4);
  polyline(g,[1996].concat(inshoreYears.slice(0,3)),[inshoreStart].concat(inshore.slice(0,3)),y,"#ff0000",3.5);
  polyline(g,inshoreYears.slice(3),inshore.slice(3),y,"#ff0000",3.5);
  points(g,offshoreYears,offshore,y,d3.symbolCircle,circD,"#0000ff");
  points(g,inshoreYears,inshore,y,d3.symbolCircle,circD,"#ff0000");
  points(g,interiorYears,interior,y,d3.symbolTriangle,triD,"#0000ff");
  label(g,1130,2009,"interior",63,{serif:true,color:"#0070c0"});
  label(g,619,2218,"boundary",64,{serif:true,color:"#ff0000"});
  label(g,619,2295,"current",64,{serif:true,color:"#ff0000"});
  label(g,1582,1961,"d",66,{serif:true,bold:true});
  textBox(g,1286,2185,1640,2327.5,"#222",1.5);
  marker(g,1329,2211,d3.symbolCircle,circD,"#0000ff");
  marker(g,1329,2255,d3.symbolCircle,circD,"#ff0000");
  marker(g,1329,2301,d3.symbolTriangle,triD,"#0000ff");
  [["Hydrography: offshore",2225,254],["Hydrography: inshore",2270,245],["Floats: interior",2314,162]]
    .forEach(r => label(g,1372,r[1],r[0],27,{width:r[2]}));
}

// panel e
{
  const g = svg.append("g");
  const y = d3.scaleLinear().domain([0,80]).range([2937,2504]);
  frame(g, y, [0,20,40,60,80], d3.format("d"), true);
  yLabel(g, 348, 2723, "Fluxes, [W/m", 1.11, "2", "]");
  polyline(g,fluxYears,lfResidual,y,"#0000ff",4);
  points(g,fluxYears,lfResidual,y,d3.symbolCircle,circE,"#0000ff");
  polyline(g,theoryYears.slice(0,5),lfTheory.slice(0,5),y,"#ff0000",4.5);
  polyline(g,theoryYears.slice(5),lfTheory.slice(5),y,"#ff0000",4.5);
  points(g,theoryYears,lfTheory,y,d3.symbolTriangle,triE,"#ff0000");
  polyline(g,fluxYears,surfaceFlux,y,"#000",4);
  points(g,fluxYears,surfaceFlux,y,d3.symbolSquare,sqE,"#000");
  label(g,822,2633,"M1",63,{serif:true,bold:true,color:"#0000ff"});
  label(g,1260,2758,"M2",63,{serif:true,bold:true,color:"#ff0000"});
  label(g,1585,2908,"e",66,{serif:true,bold:true});
  textBox(g,1384,2516,1637,2650,"#222",1.5);
  marker(g,1429,2541,d3.symbolCircle,circE,"#0000ff");
  marker(g,1429,2582,d3.symbolTriangle,triE,"#ff0000");
  marker(g,1429,2624,d3.symbolSquare,sqE,"#000");
  label(g,1470,2553,"LF: residual",27,{width:131});
  label(g,1470,2596,"LF: theory",27,{width:112});
  label(g,1453,2639,"- surface fluxes",27,{width:174});
}

// event markers running through all panels
eventYears.forEach(t => {
  svg.append("line").attr("x1",x(t)).attr("x2",x(t)).attr("y1",105).attr("y2",2937)
    .attr("stroke",DARKRED).attr("stroke-width",8).attr("stroke-dasharray","32 24")
    .attr("filter","url(#dashShadow)");
});

// caption
{
  const g = svg.append("g");
  const left = 2060, right = 2513;
  label(g,left,1513,"Figure 4.",74,{serif:true,bold:true});
  captionLines.forEach((ln, i) => {
    const py = 1603 + i * 89.8;
    if (!captionJustified[i]) { label(g,left,py,ln,74,{serif:true}); return; }
    const words = ln.split(" ").map(w => label(g,left,py,w,74,{serif:true}));
    const widths = words.map(w => w.node().getComputedTextLength());
    const gap = (right - left - d3.sum(widths)) / (words.length - 1);
    let px = left;
    words.forEach((w, k) => { w.attr("x",px); px += widths[k] + gap; });
  });
}
</script>
</body>
</html>
